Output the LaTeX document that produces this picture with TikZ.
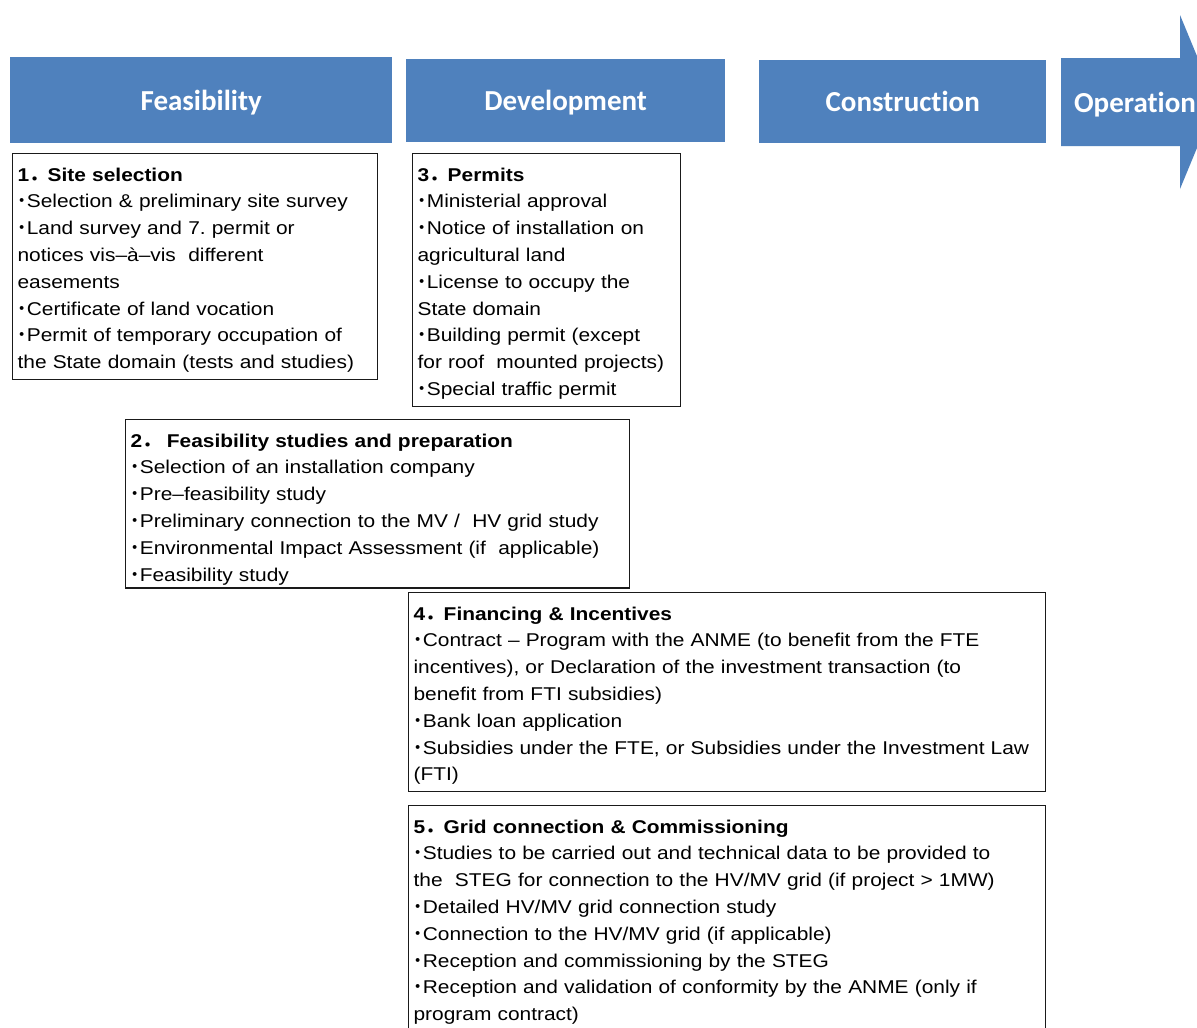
\documentclass[tikz,border=0pt]{standalone}
\usepackage{fontspec}
\usepackage{tikz}
\usetikzlibrary{positioning, calc}
\setmainfont{Liberation Sans}
\newfontfamily\boxfont[FakeStretch=1.13]{Liberation Sans}
\newfontfamily\phasefont[Ligatures=NoCommon]{Carlito}
\newfontfamily\jpfont{Noto Sans CJK JP}
\definecolor{phaseblue}{HTML}{4F81BD}
\definecolor{boxline}{HTML}{1A1A1A}
\newcommand{\itm}{{\jpfont\bfseries ･}}
\newcommand{\numdot}{{\jpfont ．}}
\frenchspacing

\tikzset{
  phase/.style={fill=phaseblue, text=white, anchor=north west, inner sep=0pt,
    text height=26pt, text depth=6pt,
    font=\phasefont\bfseries\fontsize{29}{30}\selectfont},
  phasetext/.style={text=white, inner sep=0pt, text height=26pt, text depth=6pt,
    font=\phasefont\bfseries\fontsize{29}{30}\selectfont},
  stepbox/.style={draw=boxline, line width=1.2pt, fill=white, anchor=north west,
    align=left, text width=#1, inner xsep=5pt, inner ysep=3pt,
    font=\boxfont\fontsize{18.5}{26.8}\selectfont,
    execute at begin node={\noindent\rule{0pt}{24.4pt}},
    execute at end node={\strut}}
}

\begin{document}
\begin{tikzpicture}[x=1pt, y=-1pt]
  \useasboundingbox (0,0) rectangle (1197,1028);
  \clip (0,0) rectangle (1197,1028);
  \fill[white] (0,0) rectangle (1197,1028);

  % Phase bars
  \node[phase, minimum width=382pt, minimum height=86pt] (feas) at (10,57) {Feasibility};
  \node[phase, minimum width=319pt, minimum height=83pt] (dev) at (406,59) {Development};
  \node[phase, minimum width=287pt, minimum height=83pt] (constr) at (759,60) {Construction};
  % Operation arrow
  \fill[phaseblue] (1061,58) -- (1180,58) -- (1180,15) -- (1216,102) -- (1180,189)
    -- (1180,146) -- (1061,146) -- cycle;
  \node[phasetext] (oper) at (1135,102) {Operation};

  % Step boxes
  \node[stepbox=355pt] (site) at (12,153) {%
    {\bfseries 1\numdot Site selection}\\
    \itm Selection \& preliminary site survey\\
    \itm Land survey and 7. permit or\\
    notices vis–à–vis\ \ different\\
    easements\\
    \itm Certificate of land vocation\\
    \itm Permit of temporary occupation of\\
    the State domain (tests and studies)};

  \node[stepbox=258pt] (permits) at (412,153) {%
    {\bfseries 3\numdot Permits}\\
    \itm Ministerial approval\\
    \itm Notice of installation on\\
    agricultural land\\
    \itm License to occupy the\\
    State domain\\
    \itm Building permit (except\\
    for roof\ \ mounted projects)\\
    \itm Special traffic permit};

  \node[stepbox=494pt, execute at end node={\par\vspace{-4pt}}] (studies) at (125,419) {%
    {\bfseries 2\numdot\ Feasibility studies and preparation}\\
    \itm Selection of an installation company\\
    \itm Pre–feasibility study\\
    \itm Preliminary connection to the MV /\ \ HV grid study\\
    \itm Environmental Impact Assessment (if\ \ applicable)\\
    \itm Feasibility study};

  \node[stepbox=627pt] (finance) at (408,592) {%
    {\bfseries 4\numdot Financing \& Incentives}\\
    \itm Contract – Program with the ANME (to benefit from the FTE\\
    incentives), or Declaration of the investment transaction (to\\
    benefit from FTI subsidies)\\
    \itm Bank loan application\\
    \itm Subsidies under the FTE, or Subsidies under the Investment Law\\
    (FTI)};

  \node[stepbox=627pt] (grid) at (408,805) {%
    {\bfseries 5\numdot Grid connection \& Commissioning}\\
    \itm Studies to be carried out and technical data to be provided to\\
    the\ \ STEG for connection to the HV/MV grid (if project > 1MW)\\
    \itm Detailed HV/MV grid connection study\\
    \itm Connection to the HV/MV grid (if applicable)\\
    \itm Reception and commissioning by the STEG\\
    \itm Reception and validation of conformity by the ANME (only if\\
    program contract)};
\end{tikzpicture}
\end{document}
